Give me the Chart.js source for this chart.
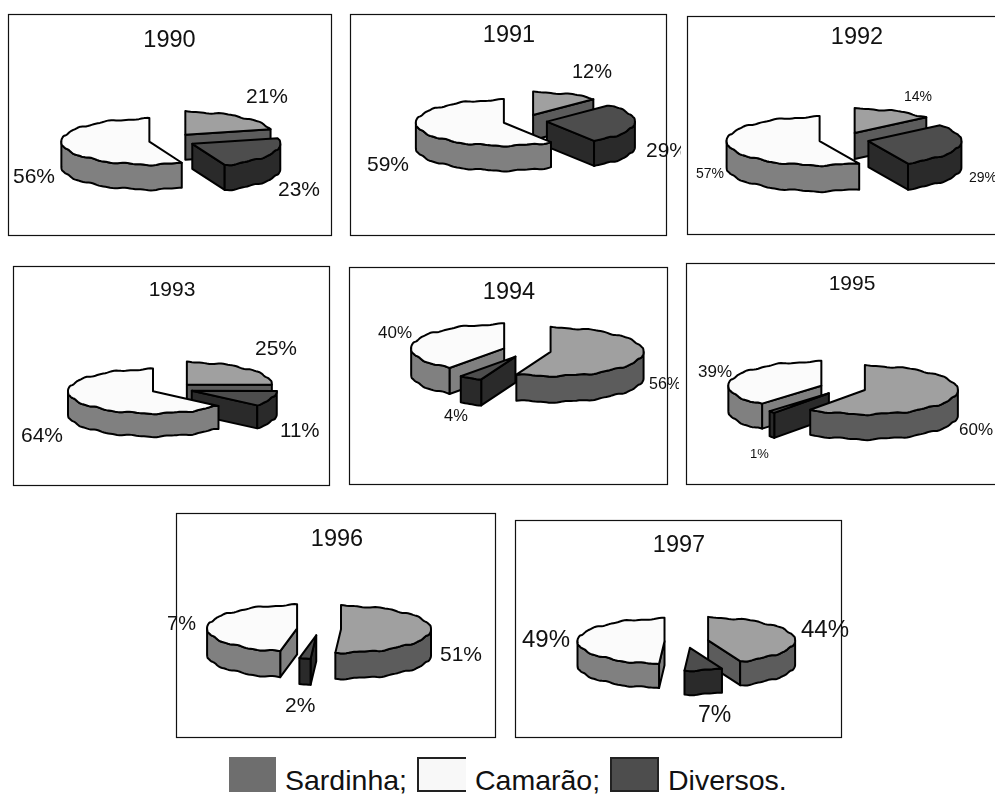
<!DOCTYPE html>
<html>
<head>
<meta charset="utf-8">
<title>Sardinha, Camarão, Diversos</title>
<script src="https://cdn.jsdelivr.net/npm/chart.js@4"></script>
<style>
  html, body { margin: 0; background: #fff; }
  body { position: relative; width: 995px; height: 794px; overflow: hidden; font-family: "Liberation Sans", Arial, sans-serif; color: #111; }
  canvas { position: absolute; }
  .swatch { position: absolute; box-sizing: border-box; }
  .key { position: absolute; font-size: 28.5px; line-height: 34px; white-space: nowrap; }
</style>
</head>
<body>
<script>
const years = ['1990', '1991', '1992', '1993', '1994', '1995', '1996', '1997'];
const sliceNames = ['Sardinha', 'Diversos', 'Camarão'];
const sardinha = [21, 12, 14, 25, 56, 60, 51, 44];
const diversos = [23, 29, 29, 11, 4, 1, 2, 7];
const camarao = [56, 59, 57, 64, 40, 39, 47, 49];

const topColors = ['#a0a0a0', '#4d4d4d', '#fbfbfb'];
const sideColors = ['#5c5c5c', '#2a2a2a', '#808080'];
const TILT = 0.26;
const EXPLODE_TILT = 0.29;

// panel box, canvas overhang left/right, pie centre, radius, explode per slice, depth
const panels = [
  { box: [8, 14, 331, 235], over: [0, 0], c: [170, 140.5], r: 88, e: [25, 25, 21], d: 25 },
  { box: [350, 14, 666, 235], over: [0, 13], c: [525, 121], r: 88, e: [22, 22, 22], d: 25 },
  { box: [687, 16, 1005, 234], over: [0, 0], c: [844, 139.5], r: 93, e: [25, 25, 25], d: 26 },
  { box: [13, 266, 329, 485], over: [0, 0], c: [172, 388.7], r: 85, e: [21, 21, 21], d: 23 },
  { box: [349, 267, 667, 484], over: [0, 10], c: [527, 350.5], r: 93, e: [24, 24, 24], d: 26 },
  { box: [686, 263, 1005, 484], over: [0, 0], c: [843, 388], r: 93, e: [23, 23, 23], d: 25 },
  { box: [176, 513, 495, 737], over: [8, 0], c: [319, 629], r: 90, e: [22, 22, 22], d: 26 },
  { box: [515, 520, 841, 737], over: [0, 10], c: [686.5, 641.5], r: 87, e: [22, 22, 22], d: 24 },
];

// title: centre x, baseline, size
const titleStyles = [
  [169.5, 47, 23.5], [509, 42, 23.5], [857, 44, 23.5], [172, 296, 21],
  [509, 299, 23.5], [852, 290, 21], [337, 546, 23.5], [679, 552, 23.5],
];

// value labels in slice order sardinha, diversos, camarao: x, baseline, size
const labelStyles = [
  [[246, 103, 21], [278, 196, 21], [13, 183, 21]],
  [[572, 78, 20], [646, 157, 21], [367, 171, 21]],
  [[904, 101, 14], [969, 182, 14], [696, 178, 14]],
  [[255, 355, 21], [280, 437, 20.5], [21, 442, 21]],
  [[649, 389, 16], [444, 421, 16.5], [378, 338, 17]],
  [[959, 435, 17], [750, 458, 13], [698, 377, 17]],
  [[440, 661, 21], [285, 712, 21], [156, 630, 20]],
  [[801, 637, 24], [698, 722, 23], [522, 647, 24]],
];

// rim of the tilted disc, with the slightly uneven edge of the old plot
const rimPoint = (cx, cy, r, angle, drop) => [
  cx + r * Math.cos(angle),
  cy + r * TILT * Math.sin(angle) + drop + 0.65 * Math.sin(angle * 13) + 0.3 * Math.sin(angle * 29 + 1),
];

const traceRim = (ctx, cx, cy, r, from, to, drop) => {
  const steps = Math.max(2, Math.ceil(Math.abs(to - from) / 0.03));
  for (let i = 0; i <= steps; i++) {
    const [x, y] = rimPoint(cx, cy, r, from + ((to - from) * i) / steps, drop);
    ctx.lineTo(x, y);
  }
};

const paint = (ctx, fill) => {
  ctx.closePath();
  ctx.fillStyle = fill;
  ctx.fill();
  ctx.stroke();
};

const radialWall = (ctx, cx, cy, r, angle, depth, fill) => {
  const [x, y] = rimPoint(cx, cy, r, angle, 0);
  ctx.beginPath();
  ctx.moveTo(cx, cy);
  ctx.lineTo(x, y);
  ctx.lineTo(x, y + depth);
  ctx.lineTo(cx, cy + depth);
  paint(ctx, fill);
};

const drawSlice = (ctx, arc, side, depth) => {
  const { x, y, startAngle, endAngle, outerRadius: r } = arc;
  const mid = (startAngle + endAngle) / 2;
  const shift = arc.options.offset / 4;
  const cx = x + Math.cos(mid) * shift;
  const cy = y + Math.sin(mid) * shift * EXPLODE_TILT;

  if (Math.cos(startAngle) < 0) radialWall(ctx, cx, cy, r, startAngle, depth, side);
  if (Math.cos(endAngle) > 0) radialWall(ctx, cx, cy, r, endAngle, depth, side);

  // only the part of the outer wall that faces the viewer
  const from = Math.max(startAngle, 0);
  const to = Math.min(endAngle, Math.PI);
  if (to > from) {
    ctx.beginPath();
    traceRim(ctx, cx, cy, r, from, to, 0);
    traceRim(ctx, cx, cy, r, to, from, depth);
    paint(ctx, side);
  }

  ctx.beginPath();
  ctx.moveTo(cx, cy);
  traceRim(ctx, cx, cy, r, startAngle, endAngle, 0);
  paint(ctx, arc.options.backgroundColor);
};

// slices reaching further towards the viewer are painted later
const frontReach = (arc) => {
  const { startAngle, endAngle } = arc;
  if (startAngle <= Math.PI / 2 && endAngle >= Math.PI / 2) return 1;
  return Math.max(Math.sin(startAngle), Math.sin(endAngle));
};

const pie3d = {
  id: 'pie3d',
  beforeDatasetDraw(chart, args) {
    const { ctx } = chart;
    const { depth } = chart.options.plugins.pie3d;
    const arcs = args.meta.data
      .map((arc, i) => ({ arc, i }))
      .sort((a, b) => frontReach(a.arc) - frontReach(b.arc));
    ctx.save();
    ctx.strokeStyle = '#000';
    ctx.lineWidth = 2;
    ctx.lineJoin = 'round';
    arcs.forEach(({ arc, i }) => drawSlice(ctx, arc, sideColors[i], depth));
    ctx.restore();
    return false;
  },
  afterDraw(chart) {
    const { ctx } = chart;
    const { frame, title, labels, origin } = chart.options.plugins.pie3d;
    const values = chart.data.datasets[0].data;
    ctx.save();
    ctx.translate(-origin[0], -origin[1]);
    ctx.strokeStyle = '#111';
    ctx.lineWidth = 1.2;
    ctx.strokeRect(frame[0] + 0.5, frame[1] + 0.5, frame[2] - frame[0], frame[3] - frame[1]);
    ctx.fillStyle = '#111';
    ctx.textBaseline = 'alphabetic';
    ctx.textAlign = 'center';
    ctx.font = `${title[2]}px "Liberation Sans", Arial, sans-serif`;
    ctx.fillText(chart.data.labels.year, title[0], title[1]);
    ctx.textAlign = 'left';
    values.forEach((value, i) => {
      const [x, y, size] = labels[i];
      ctx.font = `${size}px "Liberation Sans", Arial, sans-serif`;
      ctx.fillText(`${value}%`, x, y);
    });
    ctx.restore();
  },
};

years.forEach((year, n) => {
  const { box, over, c, r, e, d } = panels[n];
  const left = box[0] - 1 - over[0];
  const top = box[1] - 1;
  const width = box[2] - box[0] + 3 + over[0] + over[1];
  const height = box[3] - box[1] + 3;

  const canvas = document.createElement('canvas');
  canvas.width = width;
  canvas.height = height;
  canvas.style.left = `${left}px`;
  canvas.style.top = `${top}px`;
  document.body.appendChild(canvas);

  // padding pushes the chart area so that its centre lands on the pie centre
  const dx = 2 * (c[0] - left) - width;
  const dy = 2 * (c[1] - top) - height;
  const labels = [...sliceNames];
  labels.year = year;

  new Chart(canvas.getContext('2d'), {
    type: 'pie',
    data: {
      labels,
      datasets: [
        {
          data: [sardinha[n], diversos[n], camarao[n]],
          backgroundColor: topColors,
          offset: e.map((v) => v * 4),
          borderWidth: 0,
        },
      ],
    },
    options: {
      responsive: false,
      animation: false,
      radius: r,
      layout: {
        padding: {
          left: Math.max(0, dx),
          right: Math.max(0, -dx),
          top: Math.max(0, dy),
          bottom: Math.max(0, -dy),
        },
      },
      plugins: {
        legend: { display: false },
        tooltip: { enabled: false },
        pie3d: {
          depth: d,
          frame: box,
          origin: [left, top],
          title: titleStyles[n],
          labels: labelStyles[n],
        },
      },
    },
    plugins: [pie3d],
  });
});

// key under the panels
const keyItems = [
  { text: 'Sardinha;', x: 229, w: 47, fill: '#6e6e6e', border: 'none', textX: 285 },
  { text: 'Camarão;', x: 417, w: 49, fill: '#f8f8f8', border: '2px solid #222', textX: 475 },
  { text: 'Diversos.', x: 610, w: 49, fill: '#4d4d4d', border: '2px solid #222', textX: 668 },
];

keyItems.forEach((item) => {
  const swatch = document.createElement('div');
  swatch.className = 'swatch';
  swatch.style.cssText = `left:${item.x}px;top:757px;width:${item.w}px;height:35px;background:${item.fill};border:${item.border};`;
  if (item.text === 'Camarão;') swatch.style.borderRight = 'none';
  document.body.appendChild(swatch);

  const key = document.createElement('div');
  key.className = 'key';
  key.textContent = item.text;
  key.style.left = `${item.textX}px`;
  key.style.top = '763px';
  document.body.appendChild(key);
});
</script>
</body>
</html>
